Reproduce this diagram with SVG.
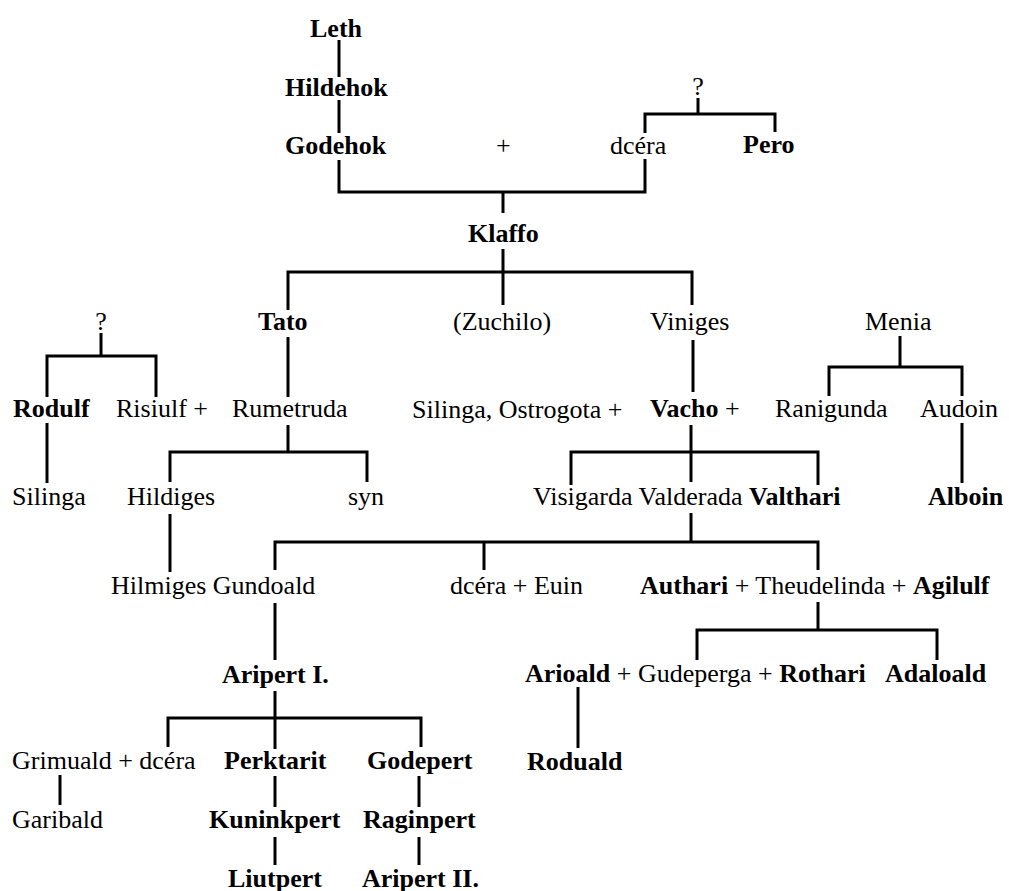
<svg xmlns="http://www.w3.org/2000/svg" width="1009" height="891" viewBox="0 0 1009 891">
<style>
text{font-family:'Times New Roman','Liberation Serif',Times,serif;font-size:26px;fill:#000}
.b{font-weight:bold}
.c{text-anchor:middle}
#connectors path{fill:none;stroke:#000;stroke-width:3;stroke-linecap:butt;stroke-linejoin:miter}
</style>
<rect width="1009" height="891" fill="#fff"/>
<g id="connectors">
<path d="M339 40V77"/>
<path d="M339 100V133"/>
<path d="M339 160V192H645V159"/>
<path d="M503 192V213"/>
<path d="M698 98V114"/>
<path d="M645 133V114H775V132"/>
<path d="M503 249V305"/>
<path d="M288 310V272H692V305"/>
<path d="M288 337V397"/>
<path d="M101 333V356"/>
<path d="M47 397V356H156V397"/>
<path d="M47 423V483"/>
<path d="M288 425V452"/>
<path d="M170 482V452H367V482"/>
<path d="M170 514V572"/>
<path d="M693 340V392"/>
<path d="M900 336V367"/>
<path d="M829 396V367H962V396"/>
<path d="M962 423V483"/>
<path d="M691 425V482"/>
<path d="M571 485V452H818V485"/>
<path d="M691 513V542"/>
<path d="M275 570V542H818V570"/>
<path d="M484 542V570"/>
<path d="M275 603V660"/>
<path d="M818 602V630"/>
<path d="M697 660V630H937V660"/>
<path d="M578 687V748"/>
<path d="M275 691V749"/>
<path d="M168 747V718H421V747"/>
<path d="M60 775V805"/>
<path d="M275 776V807"/>
<path d="M419 776V807"/>
<path d="M275 837V865"/>
<path d="M419 837V865"/>
</g>
<g id="leth"><text class="b" x="310" y="37">Leth</text></g>
<g id="hildehok"><text class="b" x="285" y="96">Hildehok</text></g>
<g id="godehok"><text class="b" x="285" y="154">Godehok</text></g>
<g id="plus1"><text x="496" y="154">+</text></g>
<g id="dcera1"><text x="610" y="154">dcéra</text></g>
<g id="q1"><text class="c" x="698" y="95">?</text></g>
<g id="pero"><text class="b" x="743" y="153">Pero</text></g>
<g id="klaffo"><text class="b" x="468" y="242">Klaffo</text></g>
<g id="tato"><text class="b" x="258" y="330">Tato</text></g>
<g id="zuchilo"><text x="453" y="330">(Zuchilo)</text></g>
<g id="viniges"><text x="650" y="330">Viniges</text></g>
<g id="q2"><text class="c" x="101" y="330">?</text></g>
<g id="menia"><text x="865" y="330">Menia</text></g>
<g id="rodulf"><text class="b" x="13" y="417">Rodulf</text></g>
<g id="risiulf"><text x="116" y="417">Risiulf +</text></g>
<g id="rumetruda"><text x="232" y="417">Rumetruda</text></g>
<g id="silinga-ostrogota"><text x="412" y="418">Silinga, Ostrogota +</text></g>
<g id="vacho"><text x="650" y="417"><tspan class="b">Vacho</tspan> +</text></g>
<g id="ranigunda"><text x="775" y="417">Ranigunda</text></g>
<g id="audoin"><text x="920" y="417">Audoin</text></g>
<g id="silinga"><text x="12" y="505">Silinga</text></g>
<g id="hildiges"><text x="127" y="505">Hildiges</text></g>
<g id="syn"><text x="348" y="505">syn</text></g>
<g id="vacho-children"><text x="533" y="505">Visigarda Valderada <tspan class="b">Valthari</tspan></text></g>
<g id="alboin"><text class="b" x="928" y="505">Alboin</text></g>
<g id="hilmiges-gundoald"><text x="111" y="594">Hilmiges Gundoald</text></g>
<g id="dcera-euin"><text x="450" y="594">dcéra + Euin</text></g>
<g id="authari"><text x="640" y="594"><tspan class="b">Authari</tspan> + Theudelinda + <tspan class="b">Agilulf</tspan></text></g>
<g id="aripert1"><text class="b" x="222" y="683">Aripert I.</text></g>
<g id="arioald"><text x="525" y="682"><tspan class="b">Arioald</tspan> + Gudeperga + <tspan class="b">Rothari</tspan></text></g>
<g id="adaloald"><text class="b" x="885" y="682">Adaloald</text></g>
<g id="grimuald"><text x="12" y="769">Grimuald + dcéra</text></g>
<g id="perktarit"><text class="b" x="224" y="769">Perktarit</text></g>
<g id="godepert"><text class="b" x="367" y="769">Godepert</text></g>
<g id="roduald"><text class="b" x="527" y="770">Roduald</text></g>
<g id="garibald"><text x="12" y="828">Garibald</text></g>
<g id="kuninkpert"><text class="b" x="209" y="828">Kuninkpert</text></g>
<g id="raginpert"><text class="b" x="363" y="828">Raginpert</text></g>
<g id="liutpert"><text class="b" x="228" y="887">Liutpert</text></g>
<g id="aripert2"><text class="b" x="362" y="887">Aripert II.</text></g>
</svg>
